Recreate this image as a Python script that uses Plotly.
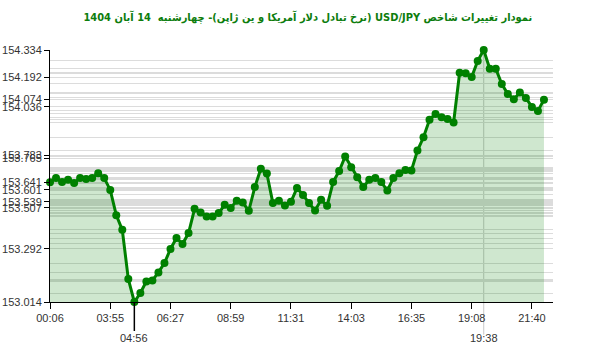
import plotly.graph_objects as go

values = [
    153.641, 153.663, 153.642, 153.654, 153.637, 153.663, 153.658, 153.663, 153.689, 153.663,
    153.601, 153.469, 153.392, 153.134, 153.014, 153.061, 153.122, 153.127, 153.169, 153.218,
    153.292, 153.349, 153.318, 153.375, 153.502, 153.483, 153.462, 153.462, 153.480, 153.523,
    153.507, 153.544, 153.535, 153.492, 153.616, 153.712, 153.687, 153.532, 153.544, 153.519,
    153.539, 153.611, 153.575, 153.532, 153.493, 153.549, 153.518, 153.642, 153.700, 153.776,
    153.720, 153.668, 153.616, 153.654, 153.663, 153.642, 153.598, 153.663, 153.689, 153.706,
    153.703, 153.807, 153.877, 153.968, 153.999, 153.982, 153.972, 153.954, 154.215, 154.212,
    154.192, 154.277, 154.334, 154.236, 154.236, 154.156, 154.104, 154.076, 154.111, 154.083,
    154.036, 154.015, 154.074,
]
idx = list(range(len(values)))

x_tick_pos = [0, 10, 20, 30, 40, 50, 60, 70, 80]
x_tick_labels = ["00:06", "03:55", "06:27", "08:59", "11:31", "14:03", "16:35", "19:08", "21:40"]
min_label = "04:56"
max_label = "19:38"

y_tick_vals = [153.014, 153.292, 153.507, 153.539, 153.601, 153.641, 153.765, 153.783,
               154.036, 154.074, 154.192, 154.334]

i_min = values.index(min(values))
i_max = values.index(max(values))

title = "نمودار تغییرات شاخص USD/JPY (نرخ تبادل دلار آمریکا و ین ژاپن)- چهارشنبه  14 آبان 1404"

fig = go.Figure()
fig.add_trace(go.Scatter(
    x=idx, y=values, yaxis="y2", mode="lines",
    line=dict(width=0), hoverinfo="skip", showlegend=False,
))
fig.add_trace(go.Scatter(
    x=idx, y=values, mode="lines+markers",
    line=dict(color="#008000", width=3),
    marker=dict(color="#008000", size=8),
    fill="tozeroy", fillcolor="rgba(0,128,0,0.19)",
    cliponaxis=False, showlegend=False,
))

yr = [min(values), max(values)]
tickfont = dict(family="Liberation Sans, Arial", size=11, color="#333")
fig.update_layout(
    width=600, height=352,
    margin=dict(l=50, r=47, t=50, b=50, autoexpand=False),
    paper_bgcolor="white", plot_bgcolor="white",
    title=dict(text="\u202B" + title + "\u202C", x=0.513, xanchor="center", y=0.952, yanchor="middle",
               font=dict(family="DejaVu Sans Condensed, DejaVu Sans", size=11, color="#0d7d0d",
                         weight="bold")),
    xaxis=dict(range=[0, 83.5], tickvals=x_tick_pos, ticktext=x_tick_labels, automargin=False,
               showgrid=False, zeroline=False, showline=True, linecolor="#000", linewidth=1,
               ticks="outside", ticklen=6, tickcolor="#000", tickfont=tickfont),
    yaxis=dict(range=yr, tickvals=y_tick_vals, ticktext=[f"{v:.3f}" for v in y_tick_vals],
               automargin=False,
               showgrid=True, gridcolor="#dcdcdc", gridwidth=1, zeroline=False,
               showline=True, linecolor="#000", linewidth=1,
               ticks="outside", ticklen=5, tickcolor="#000", tickfont=tickfont),
    yaxis2=dict(range=yr, overlaying="y", anchor="x", tickvals=values, showticklabels=False,
                automargin=False,
                ticks="", showgrid=True, gridcolor="#dcdcdc", gridwidth=1, zeroline=False,
                showline=False),
)

fig.add_shape(type="line", xref="x", yref="paper", x0=i_min, x1=i_min, y0=0, y1=-0.115,
              line=dict(color="#000", width=1.5))
fig.add_shape(type="line", xref="x", yref="paper", x0=i_max, x1=i_max, y0=-0.13, y1=1,
              line=dict(color="#c8c8c8", width=1), layer="below")
fig.add_annotation(x=i_min, y=0, xref="x", yref="paper", text=min_label, showarrow=False,
                   yanchor="middle", yshift=-36, font=tickfont)
fig.add_annotation(x=i_max, y=0, xref="x", yref="paper", text=max_label, showarrow=False,
                   yanchor="middle", yshift=-36, font=tickfont)

fig.write_html("out.html")
